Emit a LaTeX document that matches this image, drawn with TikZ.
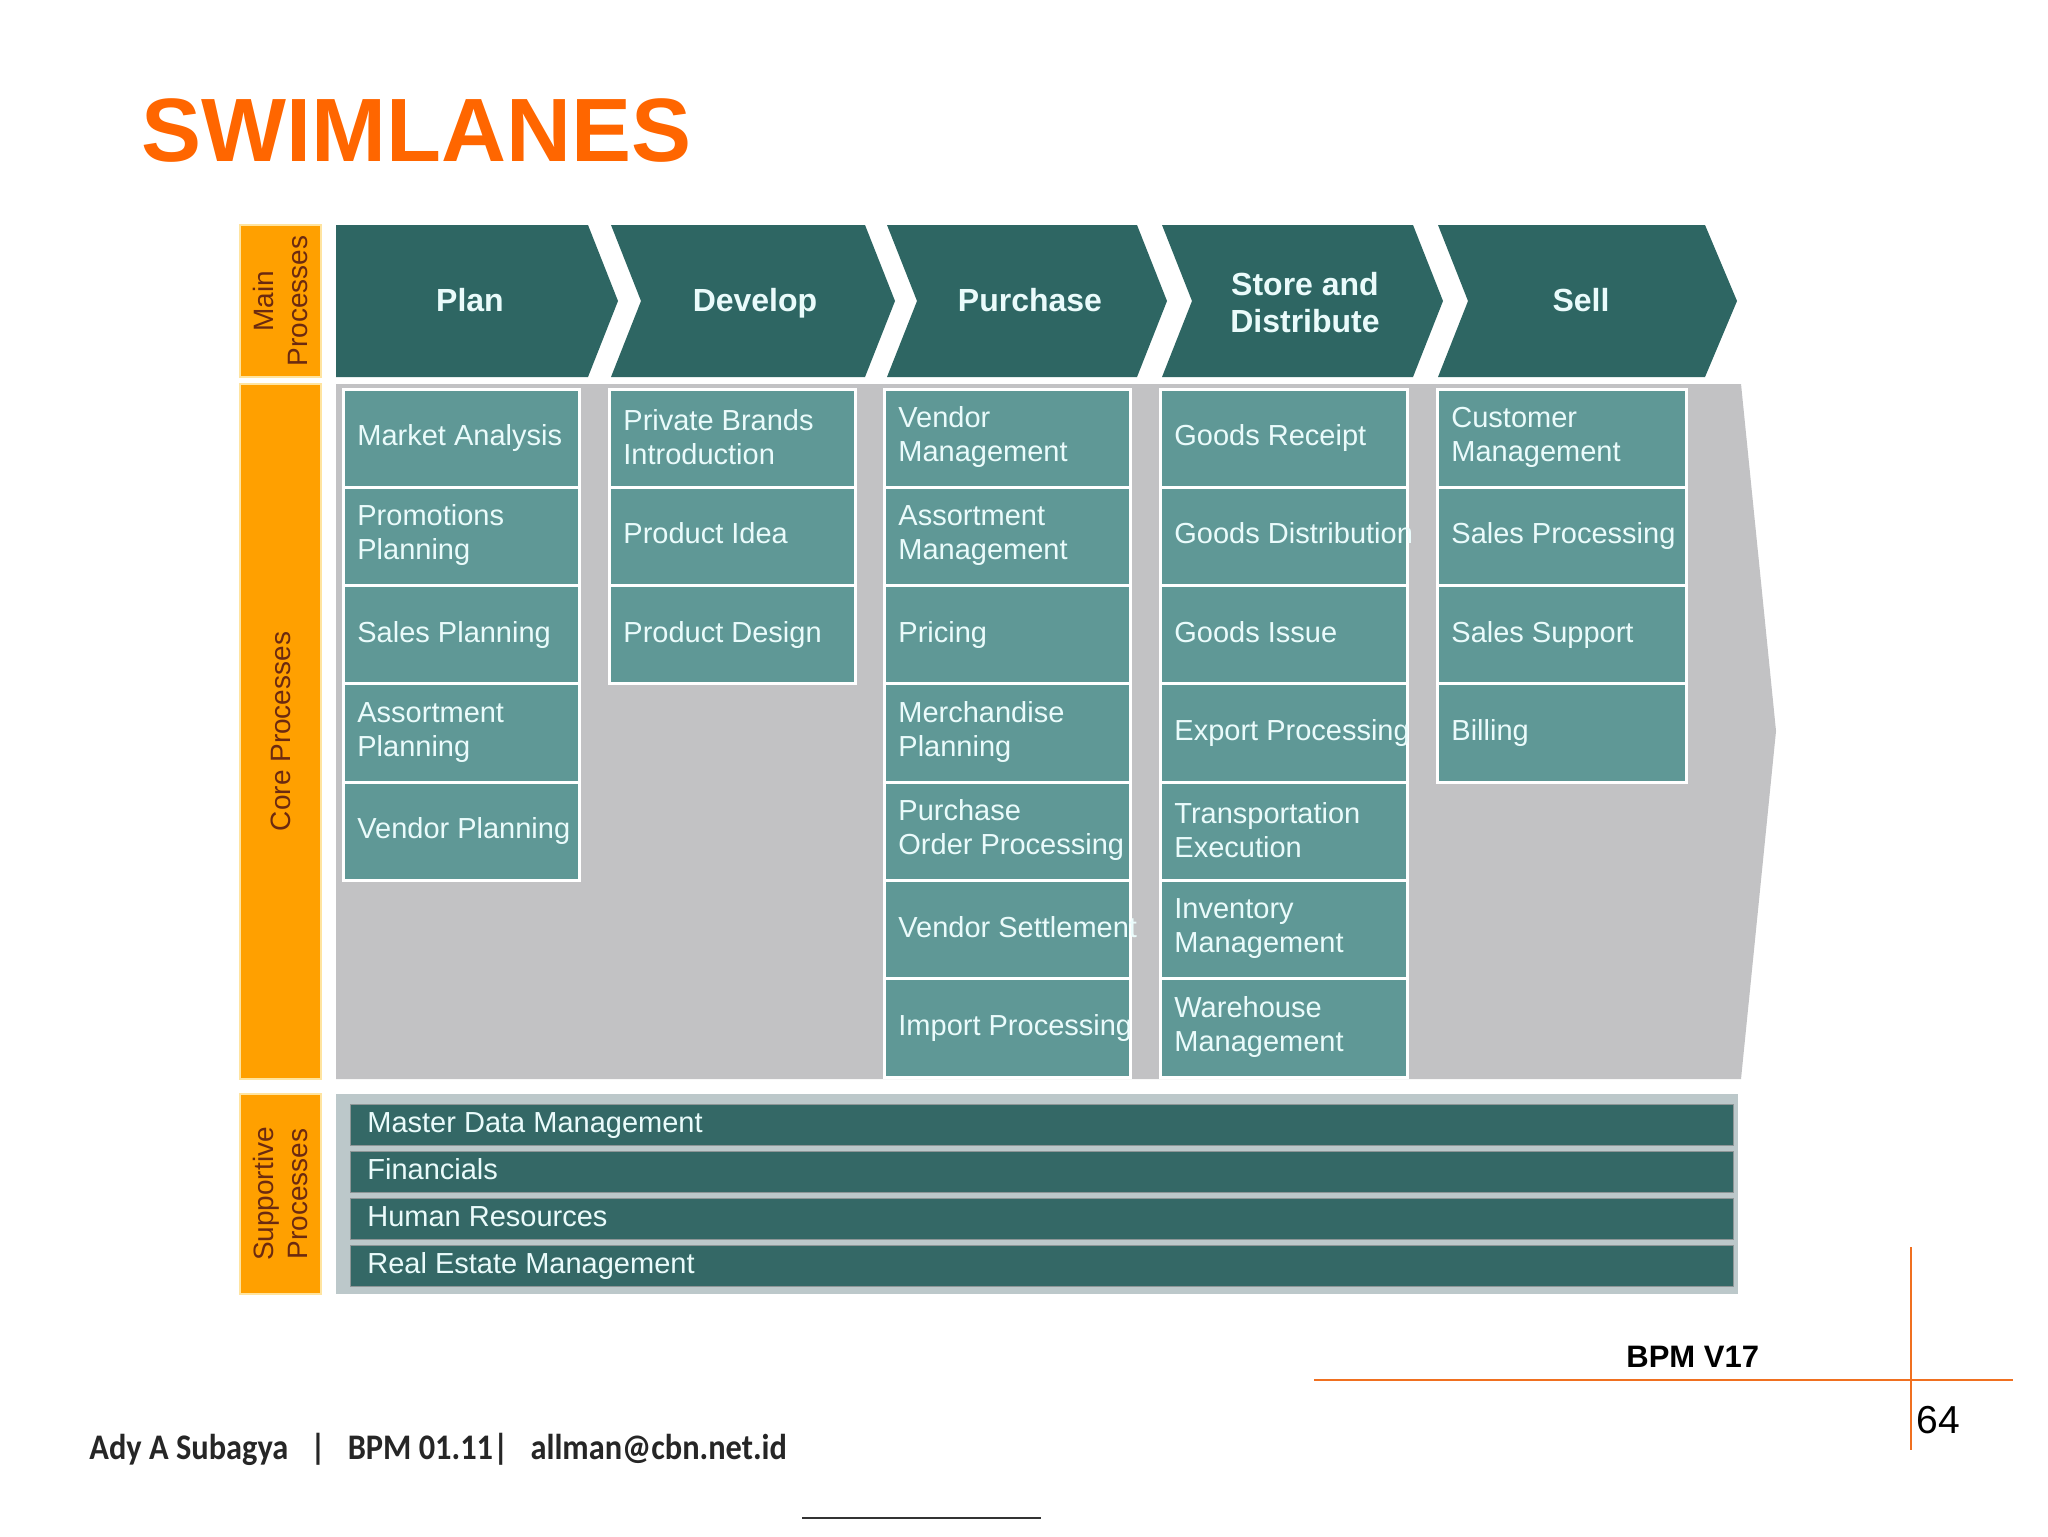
\documentclass[tikz,border=0pt]{standalone}
\usepackage{fontspec}
\usepackage{graphicx}
\setmainfont{Liberation Sans}
\newfontfamily\footfont{Carlito}
\definecolor{chevc}{HTML}{2E6663}
\definecolor{boxc}{HTML}{5F9896}
\definecolor{txtc}{HTML}{EAFBFB}
\definecolor{coregray}{HTML}{C2C2C4}
\definecolor{suppgray}{HTML}{BCC8CA}
\definecolor{barc}{HTML}{346866}
\definecolor{orangec}{HTML}{FFA000}
\definecolor{orangeedge}{HTML}{FFE4A0}
\definecolor{labtxt}{HTML}{6B2A10}
\definecolor{titlec}{HTML}{FF6600}
\definecolor{linec}{HTML}{F07020}
\tikzset{
  chevron/.style={fill=chevc},
  chevtextm/.style={text=txtc,font=\bfseries\fontsize{16}{18.5}\selectfont,align=center,inner sep=0},
  chevtext/.style={chevtextm,text height=11.5pt,text depth=3.5pt},
  corebox/.style={fill=boxc,draw=white,line width=1.5pt,minimum height=49.15pt,inner sep=0,outer sep=0},
  coretextm/.style={text=txtc,font=\fontsize{14.5}{17}\selectfont,align=left,inner sep=0},
  coretext/.style={coretextm,text height=10.5pt,text depth=3pt},
  suppbar/.style={fill=barc,draw=black!25!suppgray,line width=0.5pt,minimum width=691.5pt,minimum height=20.5pt,inner sep=0,outer sep=0,anchor=north west},
  obox/.style={fill=orangec,draw=orangeedge,line width=1pt,minimum width=40.5pt,inner sep=0},
  otext/.style={text=labtxt,font=\fontsize{14}{17}\selectfont,align=center,rotate=90,inner sep=0}
}
% single-line process box
\newcommand\cbox[5]{%
  \node[corebox,minimum width=#4*0.5pt,anchor=north west] (#1) at (#2,#3) {};
  \node[coretext,anchor=west] (#1t) at ([xshift=7pt]#1.west) {#5};}
% two-line process box
\newcommand\cboxm[5]{%
  \node[corebox,minimum width=#4*0.5pt,anchor=north west] (#1) at (#2,#3) {};
  \node[coretextm,anchor=west] (#1t) at ([xshift=7pt,yshift=0.5pt]#1.west) {#5};}
\newcommand\sbar[3]{%
  \node[suppbar] (#1) at (350,#2) {};
  \node[coretext,anchor=west] (#1t) at ([xshift=8.5pt]#1.west) {#3};}
\begin{document}
\begin{tikzpicture}[x=0.5pt,y=-0.5pt]
\useasboundingbox (0,0) rectangle (2048,1536);
\fill[white] (0,0) rectangle (2048,1536);

% title
\node[anchor=base west,inner sep=0,text=titlec,font=\bfseries\fontsize{45}{50}\selectfont] (title) at (141,161) {SWIMLANES};

% orange lane labels
\node[obox,minimum height=76pt] (mainlab) at (280.5,301) {};
\node[otext] (mainlabt) at (mainlab.center) {Main\\Processes};
\node[obox,minimum height=347.5pt] (corelab) at (280.5,731.5) {};
\node[otext] (corelabt) at (corelab.center) {Core Processes};
\node[obox,minimum height=100pt] (supplab) at (280.5,1194) {};
\node[otext] (supplabt) at (supplab.center) {Supportive\\Processes};

% main process chevrons
\fill[chevron] (336,225)--(588,225)--(618,301)--(588,377)--(336,377)--cycle;
\node[chevtext] (plan) at (470,303) {Plan};
\fill[chevron] (611,225)--(865,225)--(895,301)--(865,377)--(611,377)--(641,301)--cycle;
\node[chevtext] (develop) at (755,303) {Develop};
\fill[chevron] (887,225)--(1137,225)--(1167,301)--(1137,377)--(887,377)--(917,301)--cycle;
\node[chevtext] (purchase) at (1030,303) {Purchase};
\fill[chevron] (1162,225)--(1413,225)--(1443,301)--(1413,377)--(1162,377)--(1192,301)--cycle;
\node[chevtextm] (store) at (1305,303) {Store and\\Distribute};
\fill[chevron] (1438,225)--(1705,225)--(1737,301)--(1705,377)--(1438,377)--(1468,301)--cycle;
\node[chevtext] (sell) at (1581,303) {Sell};

% core area
\fill[coregray] (336,384)--(1741,384)--(1776,731)--(1741,1079)--(336,1079)--cycle;

% column 1
\cbox{a1}{343}{389}{236}{Market Analysis}
\cboxm{a2}{343}{487.3}{236}{Promotions\\Planning}
\cbox{a3}{343}{585.6}{236}{Sales Planning}
\cboxm{a4}{343}{683.9}{236}{Assortment\\Planning}
\cbox{a5}{343}{782.2}{236}{Vendor Planning}
% column 2
\cboxm{b1}{609}{389}{246}{Private Brands\\Introduction}
\cbox{b2}{609}{487.3}{246}{Product Idea}
\cbox{b3}{609}{585.6}{246}{Product Design}
% column 3
\cboxm{c1}{884}{389}{246}{Vendor\\Management}
\cboxm{c2}{884}{487.3}{246}{Assortment\\Management}
\cbox{c3}{884}{585.6}{246}{Pricing}
\cboxm{c4}{884}{683.9}{246}{Merchandise\\Planning}
\cboxm{c5}{884}{782.2}{246}{Purchase\\Order Processing}
\cbox{c6}{884}{880.5}{246}{Vendor Settlement}
\cbox{c7}{884}{978.8}{246}{Import Processing}
% column 4
\cbox{d1}{1160}{389}{247}{Goods Receipt}
\cbox{d2}{1160}{487.3}{247}{Goods Distribution}
\cbox{d3}{1160}{585.6}{247}{Goods Issue}
\cbox{d4}{1160}{683.9}{247}{Export Processing}
\cboxm{d5}{1160}{782.2}{247}{Transportation\\Execution}
\cboxm{d6}{1160}{880.5}{247}{Inventory\\Management}
\cboxm{d7}{1160}{978.8}{247}{Warehouse\\Management}
% column 5
\cboxm{e1}{1437}{389}{249}{Customer\\Management}
\cbox{e2}{1437}{487.3}{249}{Sales Processing}
\cbox{e3}{1437}{585.6}{249}{Sales Support}
\cbox{e4}{1437}{683.9}{249}{Billing}

% supportive processes
\fill[suppgray] (336,1094) rectangle (1738,1294);
\sbar{s1}{1104}{Master Data Management}
\sbar{s2}{1151}{Financials}
\sbar{s3}{1198}{Human Resources}
\sbar{s4}{1245}{Real Estate Management}

% footer
\draw[linec,line width=1pt] (1314,1380)--(2013,1380);
\draw[linec,line width=1pt] (1911,1247)--(1911,1450);
\node[anchor=base west,inner sep=0,font=\bfseries\fontsize{15.5}{18}\selectfont] (bpm) at (1626,1367) {BPM V17};
\node[anchor=base west,inner sep=0,font=\fontsize{19.5}{22}\selectfont] (pagenum) at (1916,1433) {64};
\node[anchor=base west,inner sep=0,text=black!85,font=\footfont\bfseries\fontsize{18}{20}\selectfont] (author) at (89,1459) {\scalebox{0.9}[1]{Ady A Subagya \ \ | \ \ BPM 01.11| \ \ allman@cbn.net.id}};
\draw[black!80,line width=1pt] (802,1518)--(1041,1518);
\end{tikzpicture}
\end{document}
